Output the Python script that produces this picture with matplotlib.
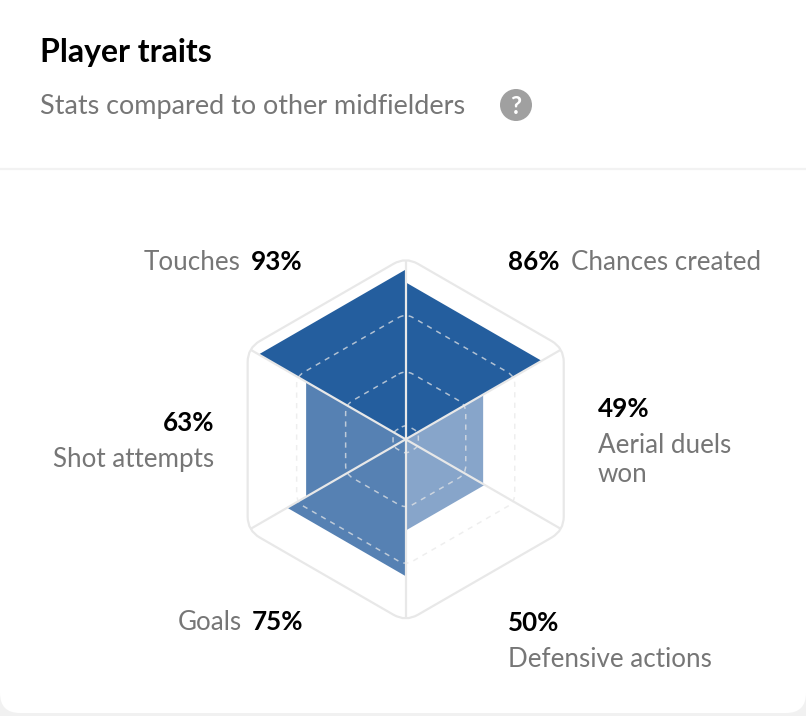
import numpy as np
import matplotlib
matplotlib.use("Agg")
import matplotlib.pyplot as plt
from matplotlib.patches import PathPatch, Polygon, FancyBboxPatch, Circle
from matplotlib.path import Path

# ---- data ----
traits = ["Chances created", "Aerial duels\nwon", "Defensive actions", "Goals", "Shot attempts", "Touches"]
values = [86, 49, 50, 75, 63, 93]
value_labels = ["86%", "49%", "50%", "75%", "63%", "93%"]
sector_colors = ["#245E9E", "#87A5CA", "#87A5CA", "#5681B3", "#5681B3", "#245E9E"]
ring_levels = [69, 38, 8]
title = "Player traits"
subtitle = "Stats compared to other midfielders"

W, H = 806, 716
FONT = "Lato"
GREY = "#767676"
LINE = "#E8E8E8"
PX = 0.72  # points per pixel at dpi 100

fig = plt.figure(figsize=(W / 100, H / 100), dpi=100, facecolor="#F1F1F1")
bg = fig.add_axes([0, 0, 1, 1])
bg.set_xlim(0, W)
bg.set_ylim(H, 0)
bg.axis("off")

# card
bg.add_patch(FancyBboxPatch((0, -40), W, 753, boxstyle="round,pad=0,rounding_size=20",
                            fc="white", ec="none", zorder=0))
bg.plot([0, W], [169, 169], color="#F2F2F2", lw=1.6, zorder=1)

# radar axes: one unit = one percent of the outer radius
CX, CY, R = 405.7, 439.3, 182.5
radar = fig.add_axes([(CX - R) / W, 1 - (CY + R) / H, 2 * R / W, 2 * R / H])
radar.set_xlim(-100, 100)
radar.set_ylim(-100, 100)
radar.axis("off")
radar.patch.set_alpha(0)

angles = np.deg2rad(90 - 60 * np.arange(7))


def rounded_hex(level, cut):
    pts = level * np.column_stack([np.cos(angles[:6]), np.sin(angles[:6])])
    verts, codes = [], []
    for i in range(6):
        p, prev, nxt = pts[i], pts[i - 1], pts[(i + 1) % 6]
        a = p + (prev - p) / np.linalg.norm(prev - p) * cut
        b = p + (nxt - p) / np.linalg.norm(nxt - p) * cut
        verts += [a, p, b]
        codes += [Path.MOVETO if i == 0 else Path.LINETO, Path.CURVE3, Path.CURVE3]
    verts.append(verts[0])
    codes.append(Path.CLOSEPOLY)
    return Path(np.array(verts), codes)


# sectors
for i, (v, c) in enumerate(zip(values, sector_colors)):
    tri = [(0, 0),
           (v * np.cos(angles[i]), v * np.sin(angles[i])),
           (v * np.cos(angles[i + 1]), v * np.sin(angles[i + 1]))]
    radar.add_patch(Polygon(tri, closed=True, fc=c, ec="none", zorder=2))

# dashed rings
for lev, cut in zip(ring_levels, [4.5, 4.5, 2.5]):
    radar.add_patch(PathPatch(rounded_hex(lev, cut), fc="none", ec=LINE, alpha=0.72,
                              lw=1.5 * PX, ls=(0, (3.5, 3.5)), zorder=3))

# outer hexagon and spokes
radar.add_patch(PathPatch(rounded_hex(100, 7.7), fc="none", ec=LINE, lw=2.2 * PX, zorder=4, clip_on=False))
for a in angles[:6]:
    radar.plot([0, 98 * np.cos(a)], [0, 98 * np.sin(a)], color=LINE, lw=2.2 * PX, zorder=4,
               solid_capstyle="butt", clip_on=False)


def txt(x, y, s, ha="left", bold=False, color=GREY, size=26):
    bg.text(x, y, s, ha=ha, va="baseline", color=color, fontsize=size * PX, family=FONT,
            fontweight="bold" if bold else "normal", zorder=10, linespacing=1.0)


# header
txt(40, 62, title, bold=True, color="black", size=32)
txt(40, 114, subtitle, size=27)
bg.add_patch(Circle((516, 105), 16, fc="#A0A0A0", ec="none", zorder=5))
txt(516, 114, "?", ha="center", bold=True, color="white", size=24)

# labels
txt(508, 270, value_labels[0], bold=True, color="black")
txt(571, 270, traits[0])
txt(598, 417, value_labels[1], bold=True, color="black")
for line, y in zip(traits[1].split("\n"), [453, 482]):
    txt(598, y, line)
txt(508, 631, value_labels[2], bold=True, color="black")
txt(508, 667, traits[2])
txt(242, 630, traits[3], ha="right")
txt(303, 630, value_labels[3], ha="right", bold=True, color="black")
txt(214, 431, value_labels[4], ha="right", bold=True, color="black")
txt(214, 467, traits[4], ha="right")
txt(241, 270, traits[5], ha="right")
txt(303, 270, value_labels[5], ha="right", bold=True, color="black")

fig.savefig("out.png", dpi=100, facecolor=fig.get_facecolor())
